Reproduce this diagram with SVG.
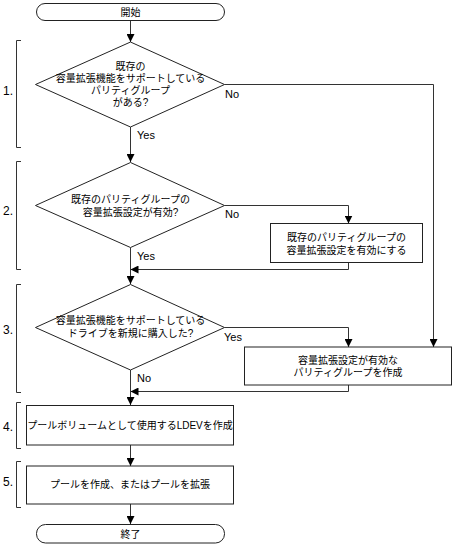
<svg xmlns="http://www.w3.org/2000/svg" width="454" height="545" viewBox="0 0 454 545">
<style>
text{font-family:"Liberation Sans","Noto Sans CJK JP",sans-serif;font-size:10px;fill:#000}
.c{text-anchor:middle}
.lbl{font-size:11px}
.num{font-size:12px}
.shape{fill:#fff;stroke:#222;stroke-width:1}
.ln{fill:none;stroke:#333;stroke-width:1}
.br{fill:none;stroke:#333;stroke-width:1}
</style>
<defs>
<marker id="ah" markerUnits="userSpaceOnUse" markerWidth="8" markerHeight="8" refX="8" refY="4" orient="auto">
<path d="M0,0 L8,4 L0,8 z" fill="#000"/>
</marker>
</defs>
<g id="brackets">
<path class="br" d="M21,40.5 H16.5 V147.5 H21"/>
<path class="br" d="M21,161.5 H16.5 V269.5 H21"/>
<path class="br" d="M21,284.5 H16.5 V392.5 H21"/>
<path class="br" d="M21,402.5 H16.5 V448.5 H21"/>
<path class="br" d="M21,461.5 H16.5 V507.5 H21"/>
<text class="num" x="3" y="95">1.</text>
<text class="num" x="3" y="215">2.</text>
<text class="num" x="3" y="334">3.</text>
<text class="num" x="3" y="431">4.</text>
<text class="num" x="3" y="486">5.</text>
</g>
<g id="connectors">
<path class="ln" d="M130.5,20.5 V42" marker-end="url(#ah)"/>
<path class="ln" d="M224.5,84.5 H433.5 V347" marker-end="url(#ah)"/>
<path class="ln" d="M130.5,127 V162" marker-end="url(#ah)"/>
<path class="ln" d="M224.5,205.5 H348.5 V223.5" marker-end="url(#ah)"/>
<path class="ln" d="M348.5,262.5 V269.5 H130.5" marker-end="url(#ah)"/>
<path class="ln" d="M130.5,247.5 V284" marker-end="url(#ah)"/>
<path class="ln" d="M224.5,327.5 H348.5 V347" marker-end="url(#ah)"/>
<path class="ln" d="M348.5,385 V391.5 H130.5" marker-end="url(#ah)"/>
<path class="ln" d="M130.5,370 V405" marker-end="url(#ah)"/>
<path class="ln" d="M130.5,445 V466" marker-end="url(#ah)"/>
<path class="ln" d="M130.5,504 V524" marker-end="url(#ah)"/>
<text class="lbl" x="225" y="98">No</text>
<text class="lbl" x="137" y="139">Yes</text>
<text class="lbl" x="225" y="218">No</text>
<text class="lbl" x="137" y="260">Yes</text>
<text class="lbl" x="224" y="341">Yes</text>
<text class="lbl" x="137" y="382">No</text>
</g>
<g id="start">
<rect class="shape" x="36.5" y="3.5" width="188" height="17" rx="8.5"/>
<text class="c" x="130.5" y="15.5">開始</text>
</g>
<g id="decision1">
<polygon class="shape" points="130.5,42 224.5,84.5 130.5,127 35.5,84.5"/>
<text class="c" x="130.5" y="69.5">既存の</text>
<text class="c" x="130.5" y="81.5">容量拡張機能をサポートしている</text>
<text class="c" x="130.5" y="93.5">パリティグループ</text>
<text class="c" x="130.5" y="105.5">がある?</text>
</g>
<g id="decision2">
<polygon class="shape" points="130.5,162.5 224.5,205.5 130.5,247.5 35.5,205.5"/>
<text class="c" x="130.5" y="203">既存のパリティグループの</text>
<text class="c" x="130.5" y="215.5">容量拡張設定が有効?</text>
</g>
<g id="enable">
<rect class="shape" x="270.5" y="223.5" width="152" height="39"/>
<text class="c" x="346.5" y="241">既存のパリティグループの</text>
<text class="c" x="346.5" y="254">容量拡張設定を有効にする</text>
</g>
<g id="decision3">
<polygon class="shape" points="130.5,284.5 224.5,327.5 130.5,370 35.5,327.5"/>
<text class="c" x="130.5" y="324">容量拡張機能をサポートしている</text>
<text class="c" x="130.5" y="336.5">ドライブを新規に購入した?</text>
</g>
<g id="createPG">
<rect class="shape" x="244.5" y="347" width="207" height="38"/>
<text class="c" x="348" y="363.5">容量拡張設定が有効な</text>
<text class="c" x="348" y="375.5">パリティグループを作成</text>
</g>
<g id="createLDEV">
<rect class="shape" x="26.5" y="405.5" width="207" height="39.5"/>
<text class="c" x="130" y="428.5">プールボリュームとして使用するLDEVを作成</text>
</g>
<g id="createPool">
<rect class="shape" x="26.5" y="466" width="207" height="38"/>
<text class="c" x="130" y="488">プールを作成、またはプールを拡張</text>
</g>
<g id="end">
<rect class="shape" x="36.5" y="524.5" width="188" height="18.5" rx="9"/>
<text class="c" x="130.5" y="537.5">終了</text>
</g>
</svg>
